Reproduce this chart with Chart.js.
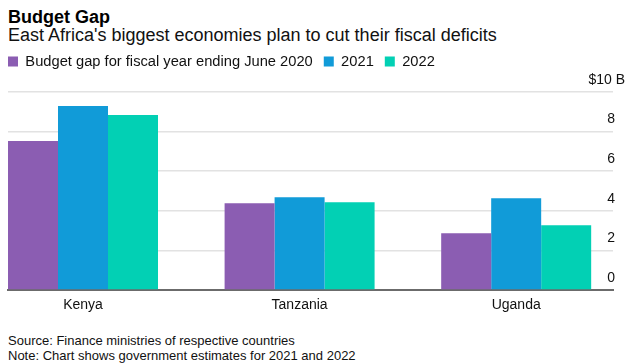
<!DOCTYPE html>
<html>
<head>
<meta charset="utf-8">
<script src="https://cdn.jsdelivr.net/npm/chart.js@4"></script>
<style>
  html, body { margin: 0; padding: 0; background: #fff; }
  body { width: 632px; height: 363px; position: relative; overflow: hidden; font-family: "Liberation Sans", Arial, sans-serif; color: #000; }
  .t { position: absolute; left: 8px; white-space: nowrap; }
  #title { top: 7.5px; font-size: 18px; line-height: 18px; font-weight: bold; }
  #sub { top: 26.3px; font-size: 18px; line-height: 18px; color: #111; }
  #src { top: 334px; font-size: 13px; line-height: 13px; color: #111; }
  #note { top: 349px; font-size: 13px; line-height: 13px; color: #111; }
  #wrap { position: absolute; left: 0; top: 0; width: 632px; height: 320px; }
</style>
</head>
<body>
<div class="t" id="title">Budget Gap</div>
<div class="t" id="sub">East Africa's biggest economies plan to cut their fiscal deficits</div>
<div id="wrap"><canvas id="c" width="632" height="320"></canvas></div>
<div class="t" id="src">Source: Finance ministries of respective countries</div>
<div class="t" id="note">Note: Chart shows government estimates for 2021 and 2022</div>
<script>
// ---- data ----
const categories = ["Kenya", "Tanzania", "Uganda"];
const seriesNames = ["Budget gap for fiscal year ending June 2020", "2021", "2022"];
const gap2020 = [7.52, 4.38, 2.86];
const gap2021 = [9.29, 4.68, 4.63];
const gap2022 = [8.84, 4.43, 3.27];
const yTickValues = [0, 2, 4, 6, 8, 10];
const yTickLabels = ["0", "2", "4", "6", "8", "$10 B"];

const colors = ["#8b5db2", "#119bd8", "#02d0b4"];
const FONT = '"Liberation Sans", Arial, sans-serif';

function toPoints(arr) { return arr.map((v, i) => ({ x: i, y: v })); }

const yLabelPlugin = {
  id: 'yLabels',
  afterDraw(chart) {
    const ys = chart.scales.y;
    const ctx = chart.ctx;
    ctx.save();
    ctx.font = '14px ' + FONT;
    ctx.fillStyle = '#111';
    ctx.textAlign = 'right';
    ctx.textBaseline = 'alphabetic';
    yTickValues.forEach((v, i) => {
      const py = ys.getPixelForValue(v);
      const lbl = yTickLabels[i];
      const xr = lbl.length > 2 ? 625 : 615;
      ctx.fillText(lbl, xr, py - 8.3);
    });
    ctx.restore();
  }
};

const datasets = [gap2020, gap2021, gap2022].map((d, i) => ({
  label: seriesNames[i],
  data: toPoints(d),
  backgroundColor: colors[i],
  borderWidth: 0,
  categoryPercentage: 0.6925,
  barPercentage: 1.0
}));

new Chart(document.getElementById('c'), {
  type: 'bar',
  data: { datasets },
  plugins: [yLabelPlugin],
  options: {
    responsive: false,
    animation: false,
    layout: { padding: { left: -3, right: 0, top: 43.15, bottom: 0 } },
    plugins: {
      legend: {
        display: true,
        position: 'top',
        align: 'start',
        labels: {
          boxWidth: 10,
          boxHeight: 10,
          padding: 11,
          color: '#111',
          font: { size: 14.7, family: FONT }
        }
      },
      tooltip: { enabled: false }
    },
    scales: {
      x: {
        type: 'linear',
        position: 'bottom',
        min: -0.3463,
        max: 2.447,
        offset: false,
        bounds: 'data',
        afterBuildTicks(s) { s.ticks = categories.map((c, i) => ({ value: i })); },
        afterFit(s) { s.height = 30; },
        grid: { display: false, drawTicks: false },
        border: { display: true, color: '#6b6b6b', width: 2 },
        ticks: {
          autoSkip: false,
          maxRotation: 0,
          padding: 7,
          color: '#111',
          font: { size: 14, family: FONT },
          callback(v) { return categories[v] !== undefined ? categories[v] : ''; }
        }
      },
      y: {
        type: 'linear',
        position: 'right',
        min: 0,
        max: 10,
        afterBuildTicks(s) { s.ticks = yTickValues.map(v => ({ value: v })); },
        afterFit(s) { s.width = 19; },
        grid: { color: '#e2e2e2', lineWidth: 1.5, drawTicks: false },
        border: { display: false },
        ticks: { display: false }
      },
      spacerTop: {
        type: 'linear',
        position: 'top',
        display: true,
        afterFit(s) { s.height = 13.15; },
        grid: { display: false, drawTicks: false },
        border: { display: false },
        ticks: { display: false }
      },
      spacerLeft: {
        type: 'linear',
        position: 'left',
        display: true,
        afterFit(s) { s.width = 11; },
        grid: { display: false, drawTicks: false },
        border: { display: false },
        ticks: { display: false }
      }
    }
  }
});
</script>
</body>
</html>
